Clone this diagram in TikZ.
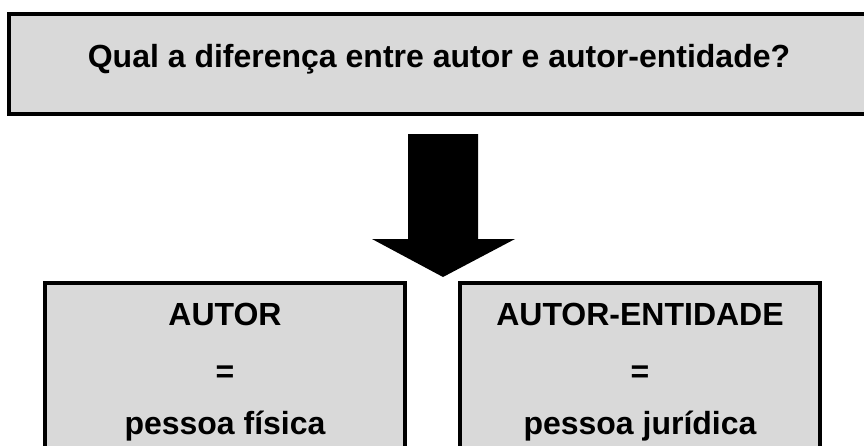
\documentclass[tikz,border=0pt]{standalone}
\usepackage{fontspec}
\setmainfont{Liberation Sans}
\usetikzlibrary{positioning}

\begin{document}
\begin{tikzpicture}[x=1pt, y=-1pt]
\tikzstyle{box}=[draw, line width=4pt, fill=black!15, inner sep=0pt, outer sep=0pt]
\tikzstyle{boxtext}=[font=\fontsize{32}{38}\selectfont\bfseries, anchor=base, inner sep=0pt]
\clip (0,0) rectangle (864,445);
% question
\node[box, anchor=north west, minimum width=863pt, minimum height=100pt] (question) at (9,14) {};
\node[boxtext] (questiontext) at (439,67) {Qual a diferença entre autor e autor-entidade?};
% big arrow
\fill (408,134) -- (478,134) -- (478,239) -- (515,239) -- (443,277)
      -- (372,239) -- (408,239) -- cycle;
% the two answers
\node[box, anchor=north west, minimum width=360pt, minimum height=190pt] (autor) at (45,283) {};
\node[box, minimum width=360pt, minimum height=190pt, right=55pt of autor] (entidade) {};
\node[boxtext] (autorname) at (225,325) {AUTOR};
\node[boxtext] (autoreq) at (225,382) {=};
\node[boxtext] (autordef) at (225,434) {pessoa física};
\node[boxtext] (entidadename) at (640,325) {AUTOR-ENTIDADE};
\node[boxtext] (entidadeeq) at (640,382) {=};
\node[boxtext] (entidadedef) at (640,434) {pessoa jurídica};
\end{tikzpicture}
\end{document}
